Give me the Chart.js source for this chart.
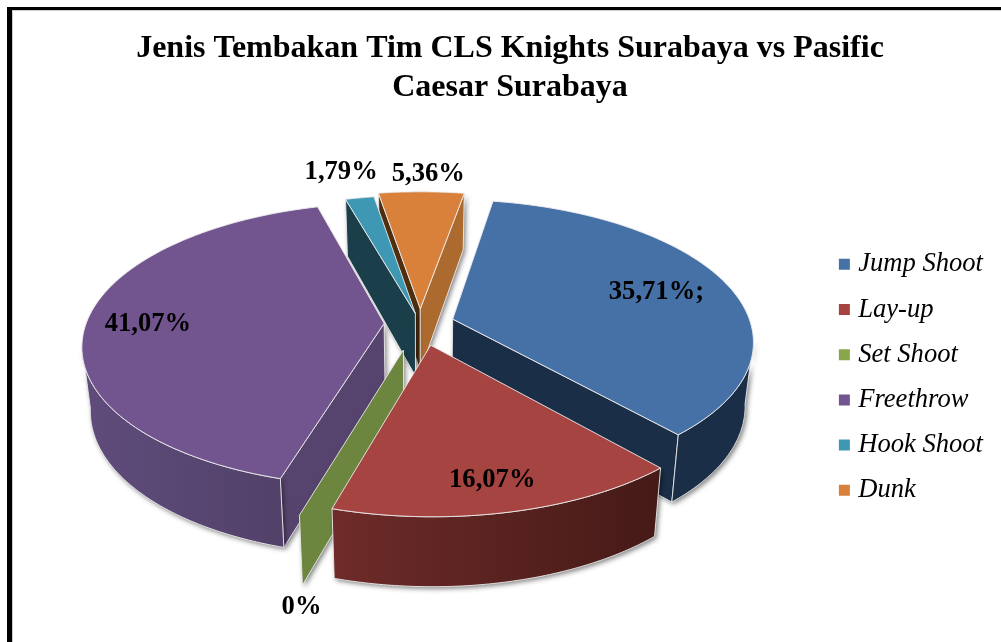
<!DOCTYPE html>
<html>
<head>
<meta charset="utf-8">
<script src="https://cdn.jsdelivr.net/npm/chart.js@4"></script>
<style>
html,body{margin:0;padding:0;background:#fff;overflow:hidden}
#frame{position:absolute;left:7px;top:7px;width:994px;height:635px;box-sizing:border-box;border-left:5px solid #000;border-top:3px solid #000;box-shadow:inset 1px 1px 0 #ccc}
canvas{position:absolute;left:0;top:0}
</style>
</head>
<body>
<div id="frame"></div>
<canvas id="c" width="1001" height="642"></canvas>
<script>
const categories = ["Jump Shoot","Lay-up","Set Shoot","Freethrow","Hook Shoot","Dunk"];
const shares = [35.71,16.07,0,41.07,1.79,5.36];
const shareLabels = ["35,71%;","16,07%","0%","41,07%","1,79%","5,36%"];
const titleLines = ["Jenis Tembakan Tim CLS Knights Surabaya vs Pasific","Caesar Surabaya"];

const topColors = ["#4571a7","#a64441","#8aa64d","#72548f","#3f98b3","#d9813b"];
const wallColors = ["#1b2e47","#4a1a17","#6c853f","#57446e","#1a3f4a","#ac6a2e"];
const outerFrom = ["#1b2e47","#6e2b29","#6c853f","#5f4c7c","#1a3f4a","#ac6a2e"];
const outerTo = ["#1b2e47","#451a17","#6c853f","#524169","#1a3f4a","#ac6a2e"];
const startWallColors = ["#1b2e47","#4a1a17","#6c853f","#57446e","#1a3f4a","#4f2f10"];
const explodePx = [34,47,58,36,22,32];
const labelRadius = [.87,.955,1.505,.922,1.445,1.38];
const labelNudgeDeg = [.1,.5,-5.3,-.5,-1,1.2];

const TILT=.465, PERSP=.15, CONVERGE=.975, DEPTH=63, DEPTH_V=6, VIS=Math.asin(PERSP), PIE_DX=-6;
const LABEL_R=295, LABEL_TILT=.465, LABEL_PERSP=.193;

const pie3d = {
  id:'pie3d',
  beforeDatasetsDraw(chart){
    const ctx=chart.ctx, els=chart.getDatasetMeta(0).data;
    const order=els.map((e,i)=>i).sort((a,b)=>Math.sin((els[a].startAngle+els[a].endAngle)/2)-Math.sin((els[b].startAngle+els[b].endAngle)/2));
    const edge='rgba(235,235,235,.9)';
    const proj=(el,i,a,r,low)=>{
      const R=el.outerRadius, mid=(el.startAngle+el.endAngle)/2, e=(el.options.offset/4)/R;
      const u=Math.cos(a)*r+Math.cos(mid)*e, v=Math.sin(a)*r+Math.sin(mid)*e, w=1-PERSP*v;
      const cx=el.x+PIE_DX;
      let X=cx+R*u/w, Y=el.y+R*TILT*v/w;
      if(low){X=cx+(X-cx)*CONVERGE;Y+=DEPTH+DEPTH_V*v;}
      return [X,Y];
    };
    const poly=(pts,fill)=>{
      ctx.beginPath();pts.forEach((p,k)=>k?ctx.lineTo(p[0],p[1]):ctx.moveTo(p[0],p[1]));ctx.closePath();
      ctx.fillStyle=fill;ctx.fill();
    };
    const outline=(pts)=>{
      ctx.shadowColor='transparent';
      ctx.beginPath();pts.forEach((p,k)=>k?ctx.lineTo(p[0],p[1]):ctx.moveTo(p[0],p[1]));ctx.closePath();
      ctx.strokeStyle=edge;ctx.lineWidth=1;ctx.stroke();
    };
    const shade=()=>{ctx.shadowColor='rgba(0,0,0,.5)';ctx.shadowBlur=5;ctx.shadowOffsetX=2;ctx.shadowOffsetY=2;};
    const radialWall=(el,i,a,col)=>{
      const q=[proj(el,i,a,0,false),proj(el,i,a,1,false),proj(el,i,a,1,true),proj(el,i,a,0,true)];
      ctx.save();shade();poly(q,col);outline(q);ctx.restore();
    };
    order.forEach(i=>{
      const el=els[i], a0=el.startAngle, a1=el.endAngle;
      if(Math.cos(a0)<0) radialWall(el,i,a0,startWallColors[i]);
      if(Math.cos(a1)>0) radialWall(el,i,a1,wallColors[i]);
      const steps=90, tw=Math.PI*2;
      let s=((a0%tw)+tw)%tw, t=s+(a1-a0);
      if(s>Math.PI*1.5){s-=tw;t-=tw;}
      const lo=Math.max(s,VIS), hi=Math.min(t,Math.PI-VIS);
      if(hi>lo){
        const up=[],dn=[];
        for(let k=0;k<=steps;k++){const a=lo+(hi-lo)*k/steps;up.push(proj(el,i,a,1,false));dn.unshift(proj(el,i,a,1,true));}
        const g=ctx.createLinearGradient(Math.min(up[0][0],up[steps][0]),0,Math.max(up[0][0],up[steps][0]),0);
        g.addColorStop(0,outerFrom[i]);g.addColorStop(1,outerTo[i]);
        const q=up.concat(dn);
        ctx.save();shade();poly(q,g);outline(q);ctx.restore();
      }
      if(a1>a0){
        const q=[proj(el,i,a0,0,false)];
        for(let k=0;k<=steps;k++)q.push(proj(el,i,a0+(a1-a0)*k/steps,1,false));
        poly(q,topColors[i]);
        ctx.save();outline(q);ctx.restore();
      }
    });
    ctx.save();
    ctx.font='bold 26.6px "Liberation Serif"';ctx.fillStyle='#000';ctx.textAlign='center';ctx.textBaseline='middle';
    els.forEach((el,i)=>{
      const mid=(el.startAngle+el.endAngle)/2+labelNudgeDeg[i]*Math.PI/180;
      const r=labelRadius[i], u=Math.cos(mid)*r, v=Math.sin(mid)*r, w=1-LABEL_PERSP*v;
      ctx.fillText(shareLabels[i],el.x+PIE_DX+LABEL_R*u/w,el.y+LABEL_R*LABEL_TILT*v/w);
    });
    ctx.restore();
    return false;
  }
};

new Chart(document.getElementById('c'),{
  type:'pie',
  data:{labels:categories,datasets:[{
    data:shares,
    backgroundColor:topColors,
    borderColor:topColors,
    borderWidth:0,
    offset:explodePx.map(x=>x*4)
  }]},
  plugins:[pie3d],
  options:{
    responsive:false,
    animation:false,
    rotation:9.9,
    radius:298,
    layout:{padding:{left:27,right:8,top:0,bottom:102}},
    plugins:{
      tooltip:{enabled:false},
      title:{display:true,text:titleLines,color:'#000',
        font:{family:'"Liberation Serif"',size:32,weight:'bold',lineHeight:1.2},
        padding:{top:30,bottom:0}},
      legend:{position:'right',align:'start',
        title:{display:true,text:' ',padding:{top:109,bottom:109}},
        labels:{color:'#000',font:{family:'"Liberation Serif"',size:26.6,style:'italic'},
          boxWidth:1,boxHeight:1,padding:18.6,
          generateLabels(chart){
            return Chart.overrides.pie.plugins.legend.labels.generateLabels(chart).map((it,i)=>Object.assign(it,{lineWidth:10,strokeStyle:topColors[i],fillStyle:topColors[i],fontColor:'#000'}));
          }}}
    }
  }
});
</script>
</body>
</html>
